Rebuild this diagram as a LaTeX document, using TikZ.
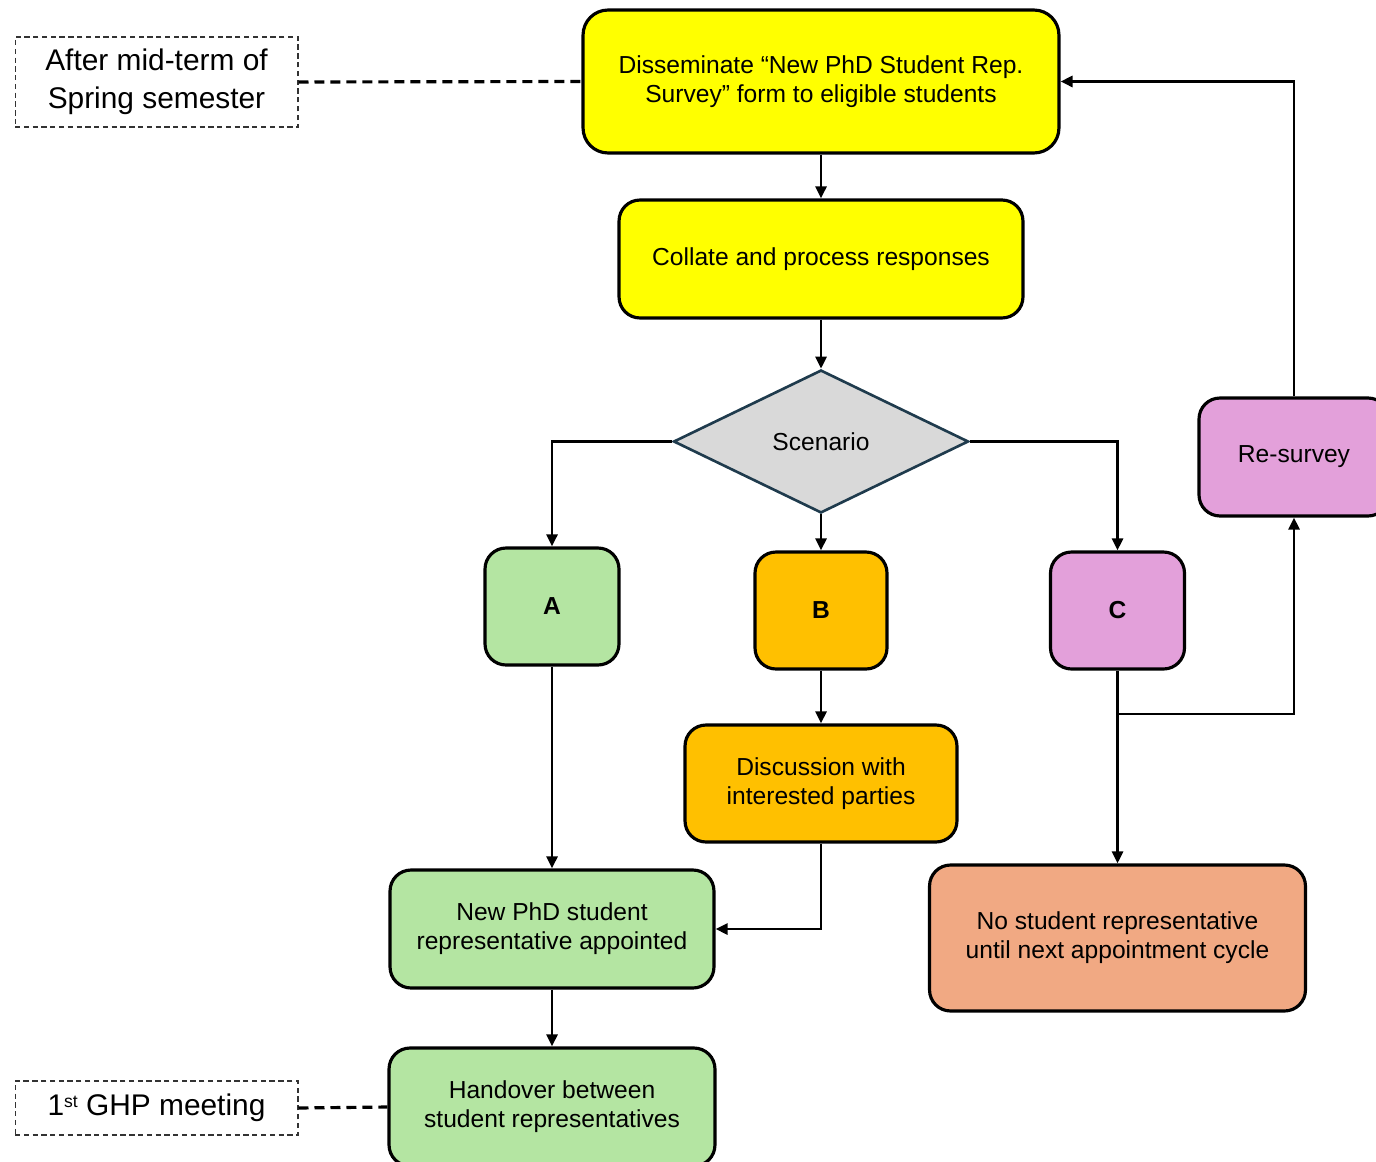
\documentclass[tikz,border=0pt]{standalone}
\usepackage{fontspec}
\setmainfont{Liberation Sans}
\usetikzlibrary{shapes.geometric,arrows.meta}

\definecolor{survyellow}{HTML}{FFFF00}
\definecolor{scengray}{HTML}{D9D9D9}
\definecolor{scenedge}{HTML}{1F3B4D}
\definecolor{repgreen}{HTML}{B4E5A2}
\definecolor{discorange}{HTML}{FFC000}
\definecolor{resurvpink}{HTML}{E3A0DA}
\definecolor{norepsalmon}{HTML}{F1A983}

\tikzset{
  stepbox/.style={draw=black, line width=1.8pt, rounded corners=0.42cm,
    align=center, inner sep=0pt, font=\fontsize{14}{16.5}\selectfont},
  timebox/.style={draw=black!80, line width=0.6pt, dash pattern=on 3pt off 2pt,
    align=center, inner sep=0pt, font=\fontsize{17}{21.5}\selectfont},
  flow/.style={line width=1.5pt, -{Triangle[length=0.24cm,width=0.22cm]}},
  timelink/.style={line width=1.8pt, dash pattern=on 0.2cm off 0.12cm}
}

\begin{document}
\begin{tikzpicture}[x=0.02cm, y=-0.02cm]
  % Page frame
  \useasboundingbox (0,0) rectangle (1376,1162);
  \clip (0,0) rectangle (1376,1162);

  % Survey and processing steps
  \node[stepbox, fill=survyellow, minimum width=9.52cm, minimum height=2.86cm, rounded corners=0.5cm]
    (dissem) at (821,81.5) {Disseminate “New PhD Student Rep.\\Survey” form to eligible students};
  \node[stepbox, fill=survyellow, minimum width=8.08cm, minimum height=2.36cm]
    (collate) at (821,259) {Collate and process responses};

  % Decision
  \node[diamond, draw=scenedge, line width=1.5pt, fill=scengray, inner sep=0pt,
    minimum width=5.9cm, minimum height=2.86cm, font=\fontsize{14}{16.5}\selectfont]
    (scen) at (821,441.5) {Scenario};

  % Scenarios
  \node[stepbox, fill=repgreen, minimum width=2.68cm, minimum height=2.34cm, font=\fontsize{14}{16.5}\selectfont\bfseries]
    (scenA) at (552,606.5) {A};
  \node[stepbox, fill=discorange, minimum width=2.64cm, minimum height=2.34cm, font=\fontsize{14}{16.5}\selectfont\bfseries]
    (scenB) at (821,610.5) {B};
  \node[stepbox, fill=resurvpink, minimum width=2.68cm, minimum height=2.34cm, font=\fontsize{14}{16.5}\selectfont\bfseries]
    (scenC) at (1117.5,610.5) {C};
  \node[stepbox, fill=resurvpink, minimum width=3.8cm, minimum height=2.36cm]
    (resurv) at (1294,457) {Re-survey};

  % Outcomes
  \node[stepbox, fill=discorange, minimum width=5.44cm, minimum height=2.34cm]
    (disc) at (821,783.5) {Discussion with\\interested parties};
  \node[stepbox, fill=repgreen, minimum width=6.48cm, minimum height=2.36cm]
    (newrep) at (552,929) {New PhD student\\representative appointed};
  \node[stepbox, fill=norepsalmon, minimum width=7.52cm, minimum height=2.92cm]
    (norep) at (1117.5,938) {No student representative\\until next appointment cycle};
  \node[stepbox, fill=repgreen, minimum width=6.52cm, minimum height=2.36cm]
    (handover) at (552,1107) {Handover between\\student representatives};

  % Timing notes
  \node[timebox, minimum width=5.66cm, minimum height=1.8cm]
    (whenA) at (156.5,82) {After mid-term of\\Spring semester};
  \node[timebox, minimum width=5.66cm, minimum height=1.08cm]
    (whenB) at (156.5,1108) {1{\fontsize{10}{10}\selectfont\raisebox{0.45em}{st}} GHP meeting};

  % Connectors
  \draw[flow] (dissem.south) -- (collate.north);
  \draw[flow] (collate.south) -- (scen.north);
  \draw[flow] (scen.west) -| (scenA.north);
  \draw[flow] (scen.south) -- (scenB.north);
  \draw[flow] (scen.east) -| (scenC.north);
  \draw[flow] (scenA.south) -- (newrep.north);
  \draw[flow] (scenB.south) -- (disc.north);
  \draw[flow] (disc.south) |- (newrep.east);
  \draw[flow] (newrep.south) -- (handover.north);
  \draw[flow] (scenC.south) -- (norep.north);
  \coordinate (csplit) at (scenC.south |- 0,714);
  \draw[flow] (csplit) -| (resurv.south);
  \draw[flow] (resurv.north) |- (dissem.east);

  % Timing links
  \draw[timelink] (whenA.east) -- (dissem.west);
  \draw[timelink] (whenB.east) -- (handover.west);
\end{tikzpicture}
\end{document}
